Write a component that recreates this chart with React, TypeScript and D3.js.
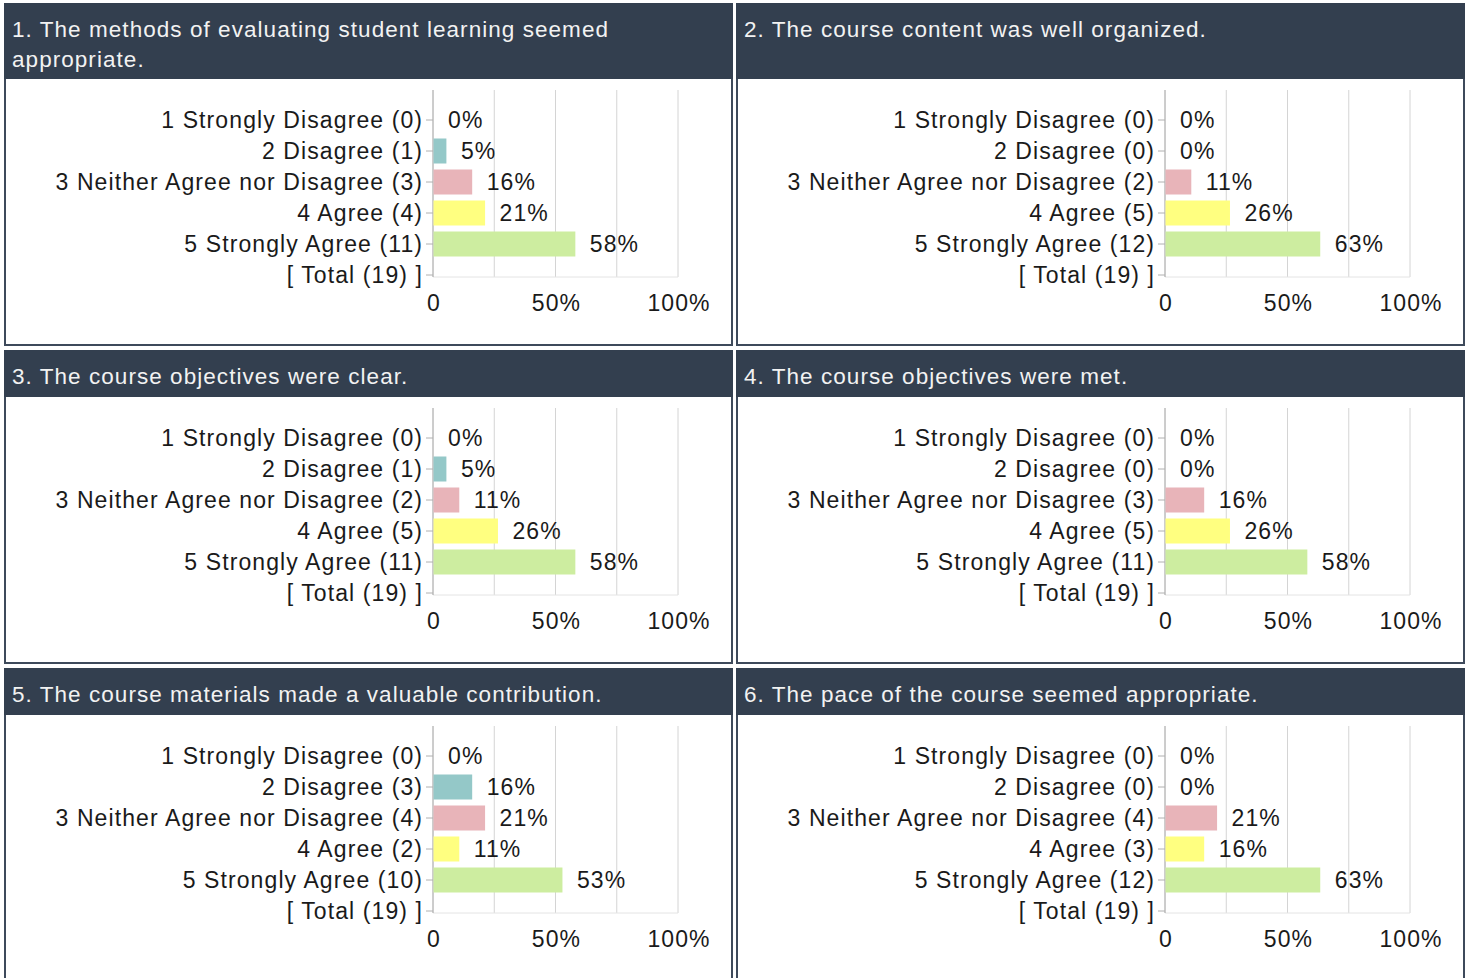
import React, { useEffect, useRef } from "react";
import * as d3 from "d3";

// survey data
const titles = [
  ["1. The methods of evaluating student learning seemed", "appropriate."],
  ["2. The course content was well organized."],
  ["3. The course objectives were clear."],
  ["4. The course objectives were met."],
  ["5. The course materials made a valuable contribution."],
  ["6. The pace of the course seemed appropriate."],
];
const categories = [
  "1 Strongly Disagree",
  "2 Disagree",
  "3 Neither Agree nor Disagree",
  "4 Agree",
  "5 Strongly Agree",
];
const counts1 = [0, 1, 3, 4, 11];
const counts2 = [0, 0, 2, 5, 12];
const counts3 = [0, 1, 2, 5, 11];
const counts4 = [0, 0, 3, 5, 11];
const counts5 = [0, 3, 4, 2, 10];
const counts6 = [0, 0, 4, 3, 12];
const allCounts = [counts1, counts2, counts3, counts4, counts5, counts6];
const barColors = ["#d9d9d9", "#94c8c8", "#e8b4b9", "#ffff80", "#cdeda0"];
const gridTicks = [0, 0.25, 0.5, 0.75, 1];
const axisTicks = [0, 0.5, 1];

const W = 1467;
const H = 978;
const colX = [4, 736];
const panelW = 729;
const rowY = [3, 350, 668];
const headH = [76, 47, 47];
const bodyH = 267;
const font = "'Liberation Sans', Arial, sans-serif";
const fs = 23;
const ls = 1.1;
const hfs = 22.5;
const hls = 1.05;

const App = () => {
  const ref = useRef<SVGSVGElement>(null);

  useEffect(() => {
    const svg = d3.select(ref.current);
    svg.selectAll("*").remove();

    allCounts.forEach((counts, qi) => {
      const px = colX[qi % 2];
      const row = Math.floor(qi / 2);
      const py = rowY[row];
      const hh = headH[row];
      const total = d3.sum(counts);
      const g = svg.append("g").attr("transform", `translate(${px},${py})`);

      // panel frame + header
      g.append("rect")
        .attr("x", 1).attr("y", 1)
        .attr("width", panelW - 2).attr("height", hh + bodyH - 2)
        .attr("fill", "#fff").attr("stroke", "#3e4a5b").attr("stroke-width", 2);
      g.append("rect")
        .attr("x", 0).attr("y", 0)
        .attr("width", panelW).attr("height", hh)
        .attr("fill", "#333f4f");
      titles[qi].forEach((line, li) => {
        g.append("text")
          .attr("x", 8).attr("y", 34 + li * 30)
          .attr("fill", "#f2f2f2")
          .style("font-family", font).style("font-size", `${hfs}px`)
          .style("letter-spacing", `${hls}px`)
          .text(line);
      });

      const b = g.append("g").attr("transform", `translate(0,${hh})`);
      const labels = categories.map((c, i) => `${c} (${counts[i]})`).concat([`[ Total (${total}) ]`]);
      const x = d3.scaleLinear().domain([0, 1]).range([429, 674]);
      const y = d3.scalePoint<string>().domain(labels).range([41, 196]);
      const y0 = 11;
      const y1 = (y(labels[labels.length - 1]) as number) + 2;

      // gridlines
      b.selectAll(".grid").data(gridTicks.slice(1)).enter().append("line")
        .attr("x1", d => x(d)).attr("x2", d => x(d))
        .attr("y1", y0).attr("y2", y1)
        .attr("stroke", "#d4d4d4").attr("stroke-width", 1);
      b.append("line")
        .attr("x1", x(0)).attr("x2", x(1))
        .attr("y1", y1).attr("y2", y1)
        .attr("stroke", "#e4e4e4");
      b.append("line")
        .attr("x1", x(0)).attr("x2", x(0))
        .attr("y1", y0).attr("y2", y1)
        .attr("stroke", "#9a9a9a");

      // category ticks + labels
      labels.forEach(l => {
        const yy = y(l) as number;
        b.append("line")
          .attr("x1", x(0) - 7).attr("x2", x(0))
          .attr("y1", yy).attr("y2", yy)
          .attr("stroke", "#b0b0b0");
        b.append("text")
          .attr("x", 418 + ls).attr("y", yy).attr("dy", "0.35em")
          .attr("text-anchor", "end")
          .attr("fill", "#1a1a1a")
          .style("font-family", font).style("font-size", `${fs}px`)
          .style("letter-spacing", `${ls}px`)
          .text(l);
      });

      // bars
      counts.forEach((c, i) => {
        const yy = y(labels[i]) as number;
        const v = c / total;
        if (c > 0) {
          b.append("rect")
            .attr("x", x(0) + 0.5).attr("y", yy - 12.5)
            .attr("width", x(v) - x(0)).attr("height", 25)
            .attr("fill", barColors[i]);
        }
        b.append("text")
          .attr("x", x(v) + 15).attr("y", yy).attr("dy", "0.35em")
          .attr("fill", "#1a1a1a")
          .style("font-family", font).style("font-size", `${fs}px`)
          .style("letter-spacing", `${ls}px`)
          .text(`${Math.round(v * 100)}%`);
      });

      // x axis labels
      axisTicks.forEach(t => {
        b.append("text")
          .attr("x", x(t) + 1).attr("y", 224).attr("dy", "0.35em")
          .attr("text-anchor", "middle")
          .attr("fill", "#1a1a1a")
          .style("font-family", font).style("font-size", `${fs}px`)
          .style("letter-spacing", `${ls}px`)
          .text(t === 0 ? "0" : d3.format(".0%")(t));
      });
    });
  }, []);

  return (
    <svg ref={ref} width={W} height={H}
      style={{ position: "absolute", left: 0, top: 0, background: "#fff" }} />
  );
};

export default App;
